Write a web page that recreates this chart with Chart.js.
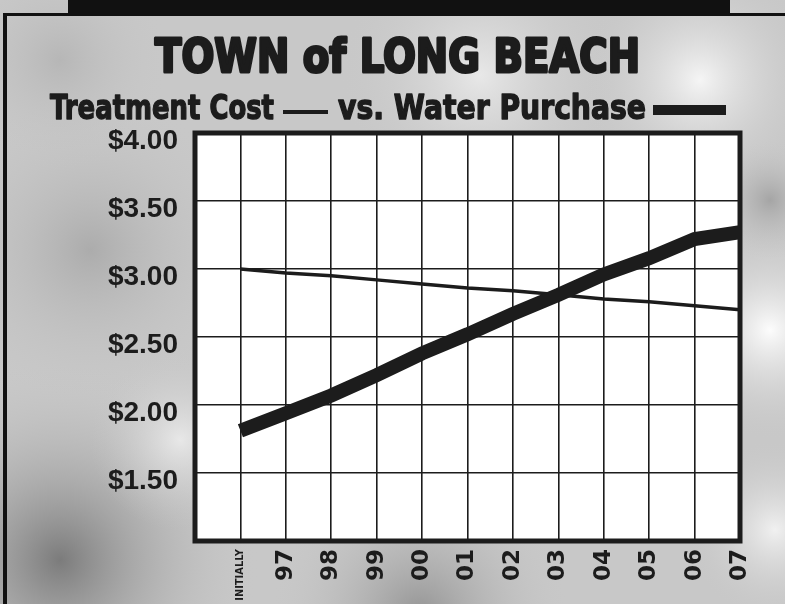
<!DOCTYPE html>
<html>
<head>
<meta charset="utf-8">
<script src="https://cdn.jsdelivr.net/npm/chart.js@4/dist/chart.umd.min.js"></script>
<style>
  body { margin: 0; background: #d0d0d0; }
  #wrap { width: 785px; height: 604px; position: relative; }
</style>
</head>
<body>
<div id="wrap"><canvas id="grafica"></canvas></div>
<script>
// Town of Long Beach - treatment cost vs water purchase
var years = ['INITIALLY', '97', '98', '99', '00', '01', '02', '03', '04', '05', '06', '07'];
var treatmentCost = [3.00, 2.97, 2.95, 2.92, 2.89, 2.86, 2.84, 2.81, 2.78, 2.76, 2.73, 2.70];
var waterPurchase = [1.81, 1.94, 2.07, 2.22, 2.38, 2.52, 2.67, 2.81, 2.96, 3.08, 3.22, 3.27];
var yTicks = [1.50, 2.00, 2.50, 3.00, 3.50, 4.00];

var titulo = 'TOWN of LONG BEACH';
var serie1 = 'Treatment Cost';
var serie2 = 'vs. Water Purchase';

var tinta = '#1c1c1c';

function puntos(valores) {
  return valores.map(function (v, i) { return { x: i, y: v }; });
}

// text squeezed to a given width, stroked a little to look heavier
function textoAjustado(ctx, texto, x, y, ancho, fuente, grosor) {
  ctx.save();
  ctx.font = fuente;
  ctx.textBaseline = 'alphabetic';
  ctx.textAlign = 'left';
  var w = ctx.measureText(texto).width;
  ctx.translate(x, y);
  ctx.scale(ancho / w, 1);
  ctx.fillText(texto, 0, 0);
  if (grosor) {
    ctx.lineWidth = grosor;
    ctx.lineJoin = 'round';
    ctx.strokeStyle = ctx.fillStyle;
    ctx.strokeText(texto, 0, 0);
  }
  ctx.restore();
}

function mancha(ctx, x, y, r, color) {
  var g = ctx.createRadialGradient(x, y, 0, x, y, r);
  g.addColorStop(0, color);
  g.addColorStop(1, 'rgba(200,200,200,0)');
  ctx.fillStyle = g;
  ctx.fillRect(x - r, y - r, r * 2, r * 2);
}

var fondo = {
  id: 'fondo',
  beforeDraw: function (chart) {
    var ctx = chart.ctx, a = chart.chartArea;
    ctx.save();
    ctx.fillStyle = '#c8c8c8';
    ctx.fillRect(0, 0, chart.width, chart.height);
    mancha(ctx, 60, 560, 200, 'rgba(115,115,115,0.9)');
    mancha(ctx, 420, 615, 150, 'rgba(135,135,135,0.8)');
    mancha(ctx, 90, 250, 160, 'rgba(160,160,160,0.7)');
    mancha(ctx, 60, 60, 110, 'rgba(175,175,175,0.7)');
    mancha(ctx, 480, 75, 140, 'rgba(240,240,240,0.8)');
    mancha(ctx, 700, 80, 120, 'rgba(250,250,250,0.9)');
    mancha(ctx, 770, 330, 110, 'rgba(255,255,255,0.95)');
    mancha(ctx, 775, 530, 90, 'rgba(245,245,245,0.9)');
    mancha(ctx, 770, 200, 60, 'rgba(150,150,150,0.7)');
    mancha(ctx, 180, 440, 90, 'rgba(240,240,240,0.8)');
    // black band and frame
    ctx.fillStyle = '#111';
    ctx.fillRect(68, 0, 662, 14);
    ctx.fillRect(3, 13, 782, 3);
    ctx.fillRect(3, 13, 4, 591);
    // white plot area
    ctx.fillStyle = '#ffffff';
    ctx.fillRect(a.left, a.top, a.right - a.left, a.bottom - a.top);
    ctx.restore();
  },
  afterDraw: function (chart) {
    var ctx = chart.ctx, a = chart.chartArea;
    ctx.save();
    ctx.strokeStyle = tinta;
    ctx.lineWidth = 5;
    ctx.strokeRect(a.left, a.top, a.right - a.left, a.bottom - a.top);

    ctx.fillStyle = tinta;
    textoAjustado(ctx, titulo, 155, 72, 485, 'bold 46px "DejaVu Sans"', 3);
    textoAjustado(ctx, serie1, 50, 119, 224, 'bold 34px "DejaVu Sans"', 1.5);
    textoAjustado(ctx, serie2, 338, 119, 308, 'bold 34px "DejaVu Sans"', 1.5);
    // legend marks
    ctx.fillRect(283, 110, 45, 4);
    ctx.fillRect(653, 105, 73, 10);
    ctx.restore();
  }
};

var grafica = new Chart(document.getElementById('grafica').getContext('2d'), {
  type: 'line',
  data: {
    datasets: [{
      label: serie2,
      data: puntos(waterPurchase),
      borderColor: tinta,
      borderWidth: 14,
      borderCapStyle: 'butt',
      borderJoinStyle: 'miter',
      pointRadius: 0,
      tension: 0
    }, {
      label: serie1,
      data: puntos(treatmentCost),
      borderColor: tinta,
      borderWidth: 3.5,
      pointRadius: 0,
      tension: 0
    }]
  },
  options: {
    responsive: true,
    maintainAspectRatio: false,
    animation: false,
    layout: { padding: { top: 133, right: 45, left: 0, bottom: 0 } },
    plugins: {
      legend: { display: false },
      title: { display: false },
      tooltip: { enabled: false }
    },
    scales: {
      x: {
        type: 'linear',
        min: -1,
        max: years.length - 1,
        afterFit: function (s) { s.height = 63; },
        border: { display: false },
        grid: { color: tinta, lineWidth: 1.6, drawTicks: false },
        ticks: {
          stepSize: 1,
          autoSkip: false,
          maxRotation: 90,
          minRotation: 90,
          padding: 8,
          color: tinta,
          font: function (c) {
            return c.index === 1
              ? { family: '"Liberation Sans Narrow", "DejaVu Sans Condensed", "Liberation Sans"', size: 11, weight: 'bold' }
              : { family: '"DejaVu Sans"', size: 23, weight: 'bold' };
          },
          callback: function (v) { return v >= 0 ? years[v] : ''; }
        }
      },
      y: {
        min: 1,
        max: 4,
        afterFit: function (s) { s.width = 195; },
        afterBuildTicks: function (s) {
          s.ticks = [{ value: 1 }].concat(yTicks.map(function (v) { return { value: v }; }));
        },
        border: { display: false },
        grid: { color: tinta, lineWidth: 1.6, drawTicks: false },
        ticks: {
          padding: 17,
          labelOffset: 8,
          color: tinta,
          font: { family: '"Liberation Sans"', size: 28, weight: 'bold' },
          callback: function (v) { return v === 1 ? '' : '$' + v.toFixed(2); }
        }
      }
    }
  },
  plugins: [fondo]
});
</script>
</body>
</html>
